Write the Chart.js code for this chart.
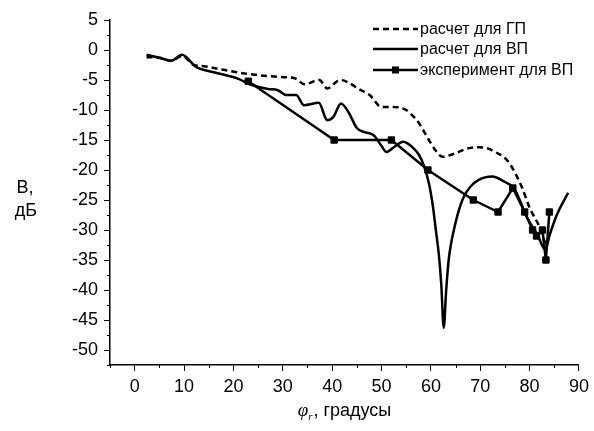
<!DOCTYPE html>
<html>
<head>
<meta charset="utf-8">
<script src="https://cdn.jsdelivr.net/npm/chart.js@4.4.1/dist/chart.umd.min.js"></script>
<style>
  html, body { margin: 0; padding: 0; background: #fff; }
  #wrap { width: 594px; height: 431px; }
</style>
</head>
<body>
<div id="wrap"><canvas id="chart" width="594" height="431"></canvas></div>
<script>
// расчет для ГП (dashed)
const gpX = [2.4, 5, 7.4, 9.6, 12, 14, 18, 23, 29.6, 32.4, 34.4, 37.4, 39, 41.6, 43, 45.4, 47.6, 50, 52.4, 55, 56.6, 57.6, 59.6, 61, 62.4, 64, 65.6, 67.5, 69.6, 71.5, 73, 75, 76.4, 78.4, 80, 82, 83.3];
const gpY = [-1.2, -1.3, -1.8, -1.0, -2.5, -2.7, -3.3, -4.0, -4.5, -4.7, -5.7, -5.0, -6.4, -5.0, -5.3, -6.5, -7.5, -9.5, -9.5, -10, -11.2, -12.2, -15, -16.8, -17.8, -17.5, -17, -16.4, -16.2, -16.4, -17, -18, -19.5, -22.8, -26.3, -29.5, -32.5];

// расчет для ВП (solid)
const vpX = [2.4, 5, 7.4, 9.6, 12.4, 16, 21, 23.6, 27, 29, 30.7, 32.7, 34.3, 37.3, 39, 40.2, 41.8, 43.4, 45, 46.6, 48.4, 50, 51, 52.5, 54.4, 56.4, 57.6, 58.6, 59.6, 60.4, 61, 61.6, 62.1, 62.6, 63.1, 63.6, 64.1, 64.6, 65.5, 66.6, 68, 69.6, 72.4, 75, 76.8, 78, 79.4, 81.6, 83.2, 84, 85.5, 87.8];
const vpY = [-0.8, -1.3, -1.8, -0.8, -2.8, -3.7, -4.8, -5.8, -6.5, -6.7, -7.5, -7.5, -9.2, -8.8, -11.7, -11.2, -8.9, -10.5, -13, -13.7, -14.2, -16, -17, -16.2, -15.3, -16.3, -17.5, -19.3, -22.2, -26, -30, -34, -39, -46.3, -40, -35, -32.2, -30.2, -27.2, -24.6, -22.8, -21.7, -21.1, -22, -23, -25, -27.8, -30.8, -33.3, -31, -27.5, -23.8];

// эксперимент для ВП (squares)
const expX = [23, 40.4, 52, 59.4, 68.6, 73.6, 76.6, 79, 80.6, 81.4, 82.6, 83.3, 84];
const expY = [-5.2, -15, -15, -20, -25, -27, -23, -27, -30, -31, -30, -35, -27];

const legendLabels = ['расчет для ГП', 'расчет для ВП', 'эксперимент для ВП'];
const yTitle = ['B,', 'дБ'];
const xTitle = ', градусы';

const toPoints = (xs, ys) => xs.map((x, i) => ({ x: x, y: ys[i] }));
const FONT = '"Liberation Sans", Arial, sans-serif';

const minorTicks = {
    id: 'minorTicks',
    afterDraw(chart) {
        const ctx = chart.ctx;
        const xs = chart.scales.x, ys = chart.scales.y;
        ctx.save();
        ctx.strokeStyle = '#000';
        ctx.lineWidth = 1;
        ctx.beginPath();
        for (let v = -52.5; v < 5; v += 5) {
            const py = Math.round(ys.getPixelForValue(v)) + 0.5;
            ctx.moveTo(xs.left - 3, py);
            ctx.lineTo(xs.left, py);
        }
        for (let v = -5; v < 90; v += 10) {
            const px = Math.round(xs.getPixelForValue(v)) + 0.5;
            ctx.moveTo(px, ys.bottom);
            ctx.lineTo(px, ys.bottom + 3);
        }
        ctx.stroke();
        ctx.restore();
    }
};

const labelsPlugin = {
    id: 'labelsPlugin',
    afterDraw(chart) {
        const ctx = chart.ctx;
        const area = chart.chartArea;
        ctx.save();
        ctx.fillStyle = '#000';
        // y title
        ctx.font = '18px ' + FONT;
        ctx.textAlign = 'center';
        ctx.textBaseline = 'middle';
        ctx.fillText(yTitle[0], 25, 188);
        ctx.fillText(yTitle[1], 26, 211);
        // x title: phi_r, градусы
        ctx.textAlign = 'left';
        ctx.textBaseline = 'alphabetic';
        const phiFont = 'italic 19px "Liberation Serif", "DejaVu Serif", serif';
        const subFont = 'italic 11px "Liberation Serif", "DejaVu Serif", serif';
        const txtFont = '18px ' + FONT;
        ctx.font = phiFont; const wPhi = ctx.measureText('φ').width;
        ctx.font = subFont; const wSub = ctx.measureText('r').width;
        ctx.font = txtFont; const wTxt = ctx.measureText(xTitle).width;
        const total = wPhi + wSub + 1 + wTxt;
        let x0 = (area.left + area.right) / 2 - total / 2;
        const base = 416;
        ctx.font = phiFont; ctx.fillText('φ', x0, base);
        ctx.font = subFont; ctx.fillText('r', x0 + wPhi, base + 4);
        ctx.font = txtFont; ctx.fillText(xTitle, x0 + wPhi + wSub + 1, base);
        // legend
        const rows = [29, 49, 70];
        const lx0 = 373, lx1 = 418;
        ctx.strokeStyle = '#000';
        ctx.lineWidth = 2.5;
        rows.forEach((y, i) => {
            ctx.beginPath();
            ctx.setLineDash(i === 0 ? [6, 4] : []);
            ctx.moveTo(lx0, y);
            ctx.lineTo(lx1, y);
            ctx.stroke();
            if (i === 2) {
                ctx.fillRect(lx0 + (lx1 - lx0) / 2 - 3.5, y - 3.5, 7, 7);
            }
            ctx.font = '16px ' + FONT;
            ctx.textBaseline = 'middle';
            ctx.fillText(legendLabels[i], 420, y + 1);
        });
        ctx.setLineDash([]);
        ctx.restore();
    }
};

new Chart(document.getElementById('chart'), {
    type: 'line',
    data: {
        datasets: [
            {
                label: legendLabels[0],
                data: toPoints(gpX, gpY),
                borderColor: '#000',
                borderWidth: 2.5,
                borderDash: [6, 4],
                pointRadius: 0,
                cubicInterpolationMode: 'monotone',
                fill: false
            },
            {
                label: legendLabels[1],
                data: toPoints(vpX, vpY),
                borderColor: '#000',
                borderWidth: 2.5,
                pointRadius: 0,
                cubicInterpolationMode: 'monotone',
                fill: false
            },
            {
                label: legendLabels[2],
                data: toPoints(expX, expY),
                borderColor: '#000',
                backgroundColor: '#000',
                borderWidth: 2.5,
                pointStyle: 'rect',
                pointRadius: 4.5,
                pointBorderWidth: 1,
                tension: 0,
                fill: false
            }
        ]
    },
    options: {
        responsive: false,
        animation: false,
        layout: { padding: { top: 20, right: 9, left: 0, bottom: 0 } },
        plugins: {
            legend: { display: false },
            tooltip: { enabled: false }
        },
        scales: {
            x: {
                type: 'linear',
                min: -5,
                max: 90,
                afterFit: (s) => { s.height = 66; },
                ticks: {
                    stepSize: 10,
                    includeBounds: false,
                    color: '#000',
                    padding: 5,
                    maxRotation: 0,
                    font: { family: FONT, size: 18 }
                },
                grid: { drawOnChartArea: false, tickLength: 6, color: '#000', lineWidth: 1 },
                border: { display: true, color: '#000', width: 1.5 }
            },
            y: {
                type: 'linear',
                min: -52.5,
                max: 5,
                afterFit: (s) => { s.width = 110; },
                ticks: {
                    stepSize: 5,
                    includeBounds: false,
                    color: '#000',
                    padding: 6,
                    font: { family: FONT, size: 18 }
                },
                grid: { drawOnChartArea: false, tickLength: 6, color: '#000', lineWidth: 1 },
                border: { display: true, color: '#000', width: 1.5 }
            }
        }
    },
    plugins: [minorTicks, labelsPlugin]
});
</script>
</body>
</html>
